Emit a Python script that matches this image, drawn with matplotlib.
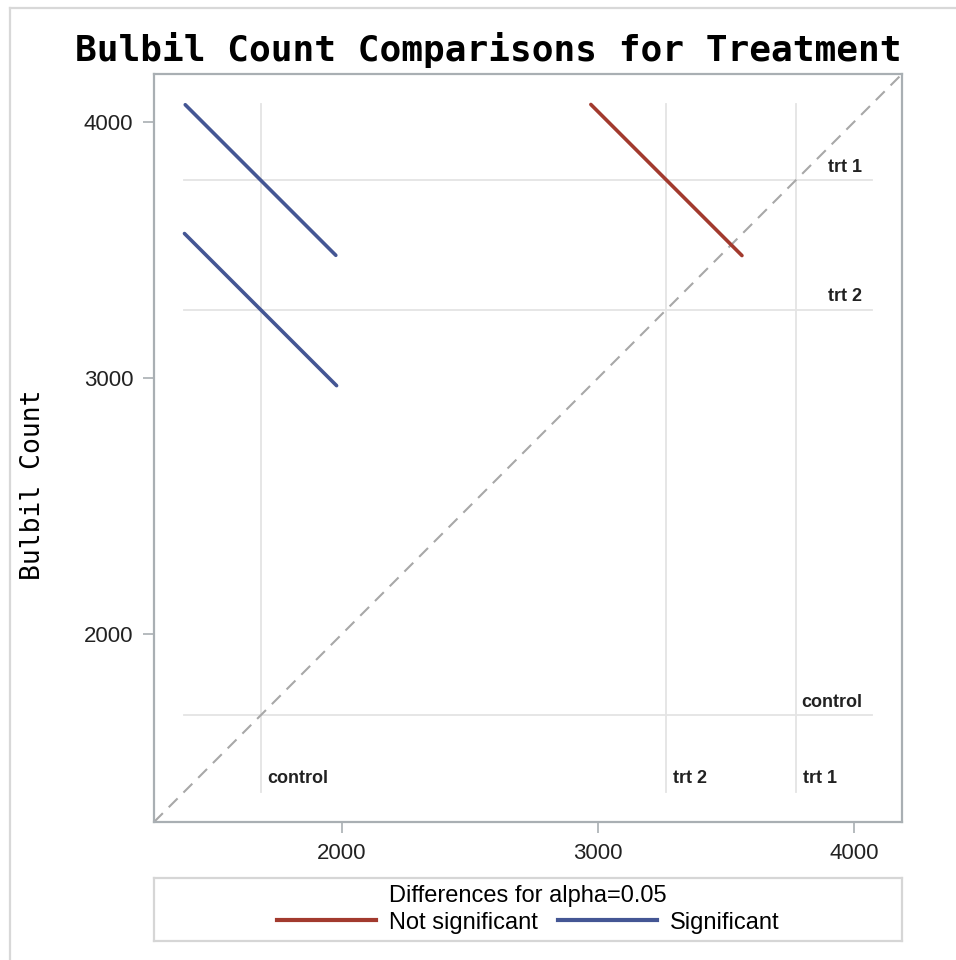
import matplotlib
matplotlib.use("Agg")
import matplotlib.pyplot as plt
from matplotlib.lines import Line2D

# LS-means per treatment level
levels = ["control", "trt 1", "trt 2"]
means = [1682, 3773, 3267]

# pairwise comparisons: (x level, y level, half length of CI segment, significant?)
pair_x = ["control", "control", "trt 2"]
pair_y = ["trt 1", "trt 2", "trt 1"]
pair_half = [294, 297, 295]
pair_sig = [True, True, False]

axis_lo, axis_hi = 1266, 4187
ticks = [2000, 3000, 4000]

blue = "#445694"
red = "#A23A2E"
frame_col = "#A9AFB3"
ref_col = "#E4E4E4"

plt.rcParams["font.family"] = "Liberation Sans"

fig = plt.figure(figsize=(9.56, 9.6), dpi=100)
ax = fig.add_axes([154 / 956, 138 / 960, 748 / 956, 748 / 960])
ax.set_xlim(axis_lo, axis_hi)
ax.set_ylim(axis_lo, axis_hi)

mean_of = dict(zip(levels, means))

# extent of the reference lines follows the segments
seg_ends = []
for px, py, h in zip(pair_x, pair_y, pair_half):
    seg_ends += [mean_of[px] - h, mean_of[px] + h, mean_of[py] - h, mean_of[py] + h]
lo, hi = min(seg_ends), max(seg_ends)
h_right = axis_lo + 0.96 * (axis_hi - axis_lo)

for lev, m in zip(levels, means):
    ax.plot([m, m], [lo, hi], color=ref_col, lw=1.3, zorder=1)
    ax.plot([lo, h_right], [m, m], color=ref_col, lw=1.3, zorder=1)
    ax.annotate(lev, (m, lo), xytext=(5, 3), textcoords="offset points",
                ha="left", va="bottom", fontsize=13, fontweight="bold", color="#222222")
    ax.annotate(lev, (h_right, m), xytext=(-7, 3), textcoords="offset points",
                ha="right", va="bottom", fontsize=13, fontweight="bold", color="#222222")

# diagonal of equality
ax.plot([axis_lo, axis_hi], [axis_lo, axis_hi], color="#A8A8A8", lw=1.5,
        dashes=(6, 4), zorder=2)

for px, py, h, sig in zip(pair_x, pair_y, pair_half, pair_sig):
    mx, my = mean_of[px], mean_of[py]
    ax.plot([mx - h, mx + h], [my + h, my - h], color=blue if sig else red,
            lw=2.6, solid_capstyle="round", zorder=3)

ax.set_xticks(ticks)
ax.set_yticks(ticks)
ax.tick_params(length=8, width=1.2, color=frame_col, labelsize=16, pad=7,
               labelcolor="#222222")
for s in ax.spines.values():
    s.set_color(frame_col)
    s.set_linewidth(1.6)

fig.text(488 / 956, 1 - 50 / 960, "Bulbil Count Comparisons for Treatment",
         family="DejaVu Sans Mono", fontweight="bold", fontsize=26,
         ha="center", va="center")
fig.text(33 / 956, 1 - 485 / 960, "Bulbil Count", family="DejaVu Sans Mono",
         fontsize=19, rotation=90, ha="center", va="center")

# legend box under the plot
lax = fig.add_axes([154 / 956, 19 / 960, 748 / 956, 63 / 960])
lax.set_xticks([])
lax.set_yticks([])
for s in lax.spines.values():
    s.set_color("#D6D6D6")
    s.set_linewidth(1.6)
handles = [Line2D([], [], color=red, lw=3), Line2D([], [], color=blue, lw=3)]
leg = lax.legend(handles, ["Not significant", "Significant"], ncol=2,
                 title="Differences for alpha=0.05", loc="center", frameon=False,
                 fontsize=17, title_fontsize=17, handlelength=4.2,
                 handletextpad=0.55, columnspacing=0.85, borderpad=0.1,
                 labelspacing=0.2)
leg._legend_box.sep = 3

# thin page border on the left and top
fig.add_artist(Line2D([10 / 956, 10 / 956], [0, 1 - 8 / 960], color="#D8D8D8",
                      lw=1.6, transform=fig.transFigure))
fig.add_artist(Line2D([10 / 956, 1], [1 - 8 / 960, 1 - 8 / 960], color="#D8D8D8",
                      lw=1.6, transform=fig.transFigure))

fig.savefig("out.png", dpi=100)
